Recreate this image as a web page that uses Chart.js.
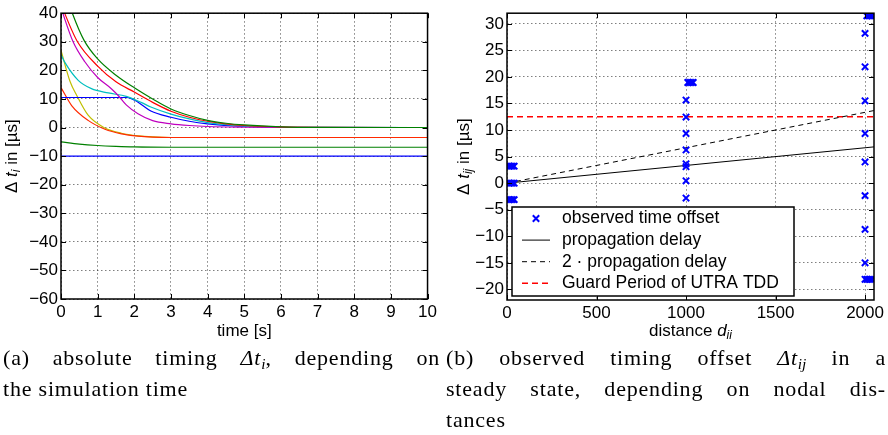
<!DOCTYPE html>
<html>
<head>
<meta charset="utf-8">
<script src="https://cdn.jsdelivr.net/npm/chart.js@4.4.1/dist/chart.umd.min.js"></script>
<style>
  html, body { margin: 0; padding: 0; background: #fff; }
  body { width: 888px; height: 435px; position: relative; overflow: hidden; }
  #left { position: absolute; left: 0; top: 0; }
  #right { position: absolute; left: 440px; top: 0; }
  .cap { position: absolute; font-family: "Liberation Serif", "DejaVu Serif", serif; font-size: 22px; letter-spacing: 0.8px; line-height: 31px; color: #000; }
  .cap .j { text-align: justify; text-align-last: justify; }
  .cap sub { font-size: 0.7em; vertical-align: -0.25em; line-height: 0; letter-spacing: 0; }
</style>
</head>
<body>
<canvas id="left" width="440" height="345"></canvas>
<canvas id="right" width="448" height="345"></canvas>
<div class="cap" style="left:3px; top:342px; width:437px;">
  <div class="j">(a) absolute timing <i>Δt<sub>i</sub></i>, depending on</div>
  <div>the simulation time</div>
</div>
<div class="cap" style="left:446px; top:342px; width:440px;">
  <div class="j">(b) observed timing offset <i>Δt<sub>ij</sub></i> in a</div>
  <div class="j">steady state, depending on nodal dis-</div>
  <div>tances</div>
</div>
<script>
// ---- (a) absolute timing over simulation time ----
const timeTicks = [0, 1, 2, 3, 4, 5, 6, 7, 8, 9, 10];
const absTicks = [-60, -50, -40, -30, -20, -10, 0, 10, 20, 30, 40];

const tGreenTop = [0, 0.31, 0.63, 1.0, 1.5, 2.0, 2.5, 3.0, 3.5, 4.0, 4.5, 5.0, 6.0, 7.0, 10];
const vGreenTop = [52, 40, 30.5, 24, 18.3, 13.9, 10.0, 6.5, 4.2, 2.5, 1.5, 0.9, 0.25, 0.05, 0];
const tRedTop = [0, 0.1, 0.45, 1.0, 1.5, 2.0, 2.5, 3.0, 3.5, 4.0, 4.5, 5.0, 6.0, 7.0, 10];
const vRedTop = [43.5, 40, 30, 21.5, 16, 12.4, 8.8, 5.7, 3.6, 2.2, 1.3, 0.7, 0.2, 0.05, 0];
const tMagenta = [0, 0.05, 0.33, 0.65, 1.0, 1.38, 1.56, 1.78, 2.1, 2.5, 3.0, 3.5, 4.0, 5.0, 6.0, 10];
const vMagenta = [42, 40, 30, 23, 17.5, 13.5, 11.2, 7.9, 4.8, 2.4, 1.3, 0.7, 0.35, 0.1, 0, 0];
const tCyan = [0, 0.11, 0.47, 0.83, 1.29, 1.78, 2.2, 2.45, 3.0, 3.5, 4.0, 5.0, 6.0, 10];
const vCyan = [25.5, 22.7, 16.5, 13.6, 12.1, 10.9, 8.7, 7.2, 4.7, 3.0, 1.7, 0.5, 0.1, 0];
const tBlueMid = [0, 1.8, 2.0, 2.2, 2.45, 3.0, 3.5, 4.0, 5.0, 6.0, 10];
const vBlueMid = [10.5, 10.5, 9.6, 8.0, 5.8, 3.6, 2.2, 1.3, 0.4, 0.1, 0];
const tYellow = [0, 0.25, 0.43, 0.74, 1.2, 1.65, 2.1, 2.5, 3.0, 10];
const vYellow = [27, 16, 11.2, 4.3, -0.2, -2.0, -2.9, -3.3, -3.5, -3.5];
const tRedLow = [0, 0.29, 0.74, 1.2, 1.65, 2.1, 2.5, 3.0, 10];
const vRedLow = [14, 7.7, 2.5, -0.6, -2.2, -3.0, -3.35, -3.5, -3.5];
const tGreenLow = [0, 0.5, 1.0, 1.5, 2.0, 3.0, 10];
const vGreenLow = [-5, -5.8, -6.3, -6.6, -6.8, -6.9, -6.9];
const tBlueLow = [0, 10];
const vBlueLow = [-10, -10];

// ---- (b) observed offsets vs. nodal distance ----
const distTicks = [0, 500, 1000, 1500, 2000];
const offsetTicks = [-20, -15, -10, -5, 0, 5, 10, 15, 20, 25, 30];

const obsDistance = [
  10, 20, 30, 40, 10, 20, 30, 40, 10, 20, 30, 40,
  1010, 1020, 1030, 1040, 1000, 1000, 1000, 1000, 1000, 1000, 1000, 1000,
  2010, 2020, 2030, 2040, 2000, 2000, 2000, 2000, 2000, 2000, 2000, 2000, 2000,
  2010, 2020, 2030, 2040
];
const obsOffset = [
  3.2, 3.2, 3.2, 3.2, 0, 0, 0, 0, -3.1, -3.1, -3.1, -3.1,
  18.95, 18.95, 18.95, 18.95, 15.65, 12.45, 9.35, 6.25, 3.65, 3.1, 0.45, -2.8,
  31.5, 31.5, 31.5, 31.5, 28.2, 21.9, 15.5, 9.35, 4.0, -2.35, -8.7, -15.0, -18.1,
  -18.1, -18.1, -18.1, -18.1
];
const delayDistance = [0, 2050];
const propagationDelay = [0, 6.83];
const doublePropagationDelay = [0, 13.67];
const guardPeriod = [12.5, 12.5];

const SANS = '"Liberation Sans", Arial, Helvetica, sans-serif';
const TICK_SIZE = 17;
const pts = (xs, ys) => xs.map((x, i) => ({ x, y: ys[i] }));
const minus = v => String(v).replace('-', '\u2212');

function drawRich(ctx, parts, cx, cy, rotate, size) {
  const fontFor = p => `${p.italic ? 'italic ' : ''}${p.sub ? Math.round(size * 0.7) : size}px ${SANS}`;
  const widths = parts.map(p => { ctx.font = fontFor(p); return ctx.measureText(p.text).width; });
  const total = widths.reduce((a, b) => a + b, 0);
  ctx.save();
  ctx.translate(cx, cy);
  if (rotate) ctx.rotate(-Math.PI / 2);
  ctx.textBaseline = 'middle';
  ctx.textAlign = 'left';
  ctx.fillStyle = '#000';
  let xx = -total / 2;
  parts.forEach((p, i) => {
    ctx.font = fontFor(p);
    ctx.fillText(p.text, xx, p.sub ? size * 0.3 : 0);
    xx += widths[i];
  });
  ctx.restore();
}

// box around the axes, inward tick marks and the axis titles
const frame = {
  id: 'frame',
  afterDatasetsDraw(chart, args, opts) {
    const { ctx, chartArea: a, scales: { x, y } } = chart;
    ctx.save();
    ctx.strokeStyle = '#000';
    ctx.lineWidth = 1;
    ctx.beginPath();
    x.ticks.forEach(t => {
      const px = Math.round(x.getPixelForValue(t.value)) + 0.5;
      ctx.moveTo(px, a.bottom); ctx.lineTo(px, a.bottom - 5);
      ctx.moveTo(px, a.top); ctx.lineTo(px, a.top + 5);
    });
    y.ticks.forEach(t => {
      const py = Math.round(y.getPixelForValue(t.value)) + 0.5;
      ctx.moveTo(a.left, py); ctx.lineTo(a.left + 5, py);
      ctx.moveTo(a.right, py); ctx.lineTo(a.right - 5, py);
    });
    ctx.stroke();
    ctx.lineWidth = 1.5;
    ctx.strokeRect(a.left, a.top, a.right - a.left, a.bottom - a.top);
    ctx.restore();
    drawRich(ctx, opts.xTitle, (a.left + a.right) / 2, opts.xTitleY, false, 17);
    drawRich(ctx, opts.yTitle, opts.yTitleX, (a.top + a.bottom) / 2, true, 17);
  }
};

// legend drawn inside the plot, lower left
const boxLegend = {
  id: 'boxLegend',
  afterDraw(chart, args, opts) {
    if (!opts.show) return;
    const { ctx, chartArea: a } = chart;
    const w = 282, h = 89, rowH = 21.6;
    const left = a.left + 5, top = a.bottom - 4 - h;
    ctx.save();
    ctx.fillStyle = '#fff';
    ctx.fillRect(left, top, w, h);
    ctx.strokeStyle = '#000';
    ctx.lineWidth = 1.5;
    ctx.strokeRect(left, top, w, h);
    chart.data.datasets.forEach((ds, i) => {
      const cy = top + 11.5 + i * rowH;
      ctx.save();
      ctx.strokeStyle = ds.borderColor;
      if (ds.showLine) {
        ctx.lineWidth = ds.borderWidth;
        ctx.setLineDash(ds.borderDash || []);
        ctx.beginPath();
        ctx.moveTo(left + 10, cy); ctx.lineTo(left + 38, cy);
        ctx.stroke();
      } else {
        const r = 3.2;
        ctx.lineWidth = 2;
        ctx.beginPath();
        ctx.moveTo(left + 24 - r, cy - r); ctx.lineTo(left + 24 + r, cy + r);
        ctx.moveTo(left + 24 - r, cy + r); ctx.lineTo(left + 24 + r, cy - r);
        ctx.stroke();
      }
      ctx.restore();
      ctx.fillStyle = '#000';
      ctx.font = `17.5px ${SANS}`;
      ctx.textBaseline = 'middle';
      ctx.fillText(ds.label, left + 50, cy);
    });
    ctx.restore();
  }
};

function axis(min, max, tickValues, fit) {
  return {
    type: 'linear',
    min, max,
    afterBuildTicks: s => { s.ticks = tickValues.map(v => ({ value: v })); },
    afterFit: fit,
    grid: { color: 'rgba(0,0,0,0.5)', lineWidth: 1, drawTicks: false },
    border: { display: false, dash: [1.5, 2.5] },
    ticks: { color: '#000', font: { family: SANS, size: TICK_SIZE }, padding: 3, callback: v => minus(v) }
  };
}

const curve = (label, xs, ys, color) => ({
  label, data: pts(xs, ys), borderColor: color, backgroundColor: color,
  borderWidth: 1.2, pointRadius: 0, showLine: true, cubicInterpolationMode: 'monotone'
});

new Chart(document.getElementById('left'), {
  type: 'scatter',
  data: {
    datasets: [
      curve('g1', tGreenTop, vGreenTop, '#008000'),
      curve('r1', tRedTop, vRedTop, '#ff0000'),
      curve('m', tMagenta, vMagenta, '#bf00bf'),
      curve('c', tCyan, vCyan, '#00bfbf'),
      curve('b1', tBlueMid, vBlueMid, '#0000ff'),
      curve('r2', tRedLow, vRedLow, '#ff2a00'),
      curve('y', tYellow, vYellow, '#bfbf00'),
      curve('g2', tGreenLow, vGreenLow, '#008000'),
      curve('b2', tBlueLow, vBlueLow, '#0000ff')
    ]
  },
  options: {
    responsive: false,
    animation: false,
    events: [],
    layout: { padding: { top: 10, right: 11, left: 0, bottom: 0 } },
    scales: {
      x: axis(0, 10, timeTicks, s => { s.height = 46; }),
      y: axis(-60, 40, absTicks, s => { s.width = 61; })
    },
    plugins: {
      legend: { display: false },
      tooltip: { enabled: false },
      frame: {
        xTitle: [{ text: 'time [s]' }],
        xTitleY: 331,
        yTitle: [{ text: '\u0394 ' }, { text: 't', italic: true }, { text: 'i', italic: true, sub: true }, { text: ' in [\u00b5s]' }],
        yTitleX: 12
      }
    }
  },
  plugins: [frame]
});

new Chart(document.getElementById('right'), {
  type: 'scatter',
  data: {
    datasets: [
      {
        label: 'observed time offset', data: pts(obsDistance, obsOffset),
        borderColor: '#0000ff', backgroundColor: '#0000ff', pointStyle: 'crossRot',
        pointRadius: 4.5, borderWidth: 2, showLine: false
      },
      {
        label: 'propagation delay', data: pts(delayDistance, propagationDelay),
        borderColor: '#000', borderWidth: 1, pointRadius: 0, showLine: true
      },
      {
        label: '2 \u00b7 propagation delay', data: pts(delayDistance, doublePropagationDelay),
        borderColor: '#000', borderWidth: 1, borderDash: [5, 4], pointRadius: 0, showLine: true
      },
      {
        label: 'Guard Period of UTRA TDD', data: pts(delayDistance, guardPeriod),
        borderColor: '#ff0000', borderWidth: 1.6, borderDash: [6, 4], pointRadius: 0, showLine: true
      }
    ]
  },
  options: {
    responsive: false,
    animation: false,
    events: [],
    layout: { padding: { top: 10, right: 14, left: 0, bottom: 0 } },
    scales: {
      x: axis(0, 2050, distTicks, s => { s.height = 45; }),
      y: axis(-22, 32, offsetTicks, s => { s.width = 67; })
    },
    plugins: {
      legend: { display: false },
      tooltip: { enabled: false },
      boxLegend: { show: true },
      frame: {
        xTitle: [{ text: 'distance ' }, { text: 'd', italic: true }, { text: 'ii', italic: true, sub: true }],
        xTitleY: 331,
        yTitle: [{ text: '\u0394 ' }, { text: 't', italic: true }, { text: 'ij', italic: true, sub: true }, { text: ' in [\u00b5s]' }],
        yTitleX: 24
      }
    }
  },
  plugins: [frame, boxLegend]
});
</script>
</body>
</html>
